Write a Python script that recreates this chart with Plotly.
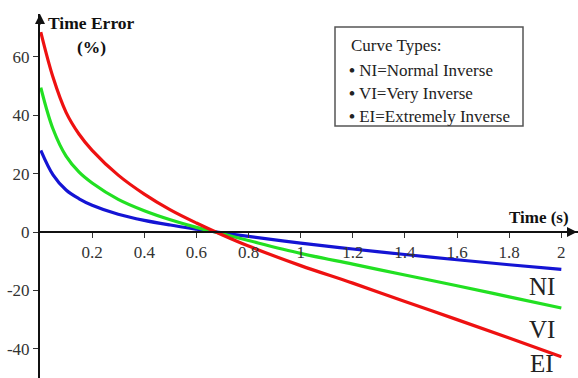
import plotly.graph_objects as go

# Time axis samples (s)
time_s = [0.003, 0.05, 0.1, 0.15, 0.2, 0.3, 0.4, 0.5, 0.6, 0.7, 0.8, 1.0, 1.2, 1.4, 1.6, 1.8, 2.0]

# Time error (%) for each IDMT curve type
err_ni = [28.0, 19.6, 14.4, 11.4, 9.2, 6.1, 4.0, 2.4, 1.0, -0.3, -1.5, -3.8, -5.8, -7.7, -9.5, -11.2, -12.8]
err_vi = [49.5, 35.3, 26.0, 20.5, 16.8, 11.2, 7.3, 4.2, 1.6, -0.6, -2.9, -7.3, -11.0, -14.7, -18.4, -22.2, -26.0]
err_ei = [68.5, 53.0, 41.0, 33.5, 28.0, 19.5, 13.0, 7.6, 3.1, -1.0, -4.8, -11.5, -17.5, -23.8, -30.0, -36.3, -42.7]

curve_names = ["NI", "VI", "EI"]
curve_colors = ["#1414d4", "#22e022", "#ee1111"]

x_ticks = [0.2, 0.4, 0.6, 0.8, 1.0, 1.2, 1.4, 1.6, 1.8, 2.0]
x_tick_text = ["0.2", "0.4", "0.6", "0.8", "1", "1.2", "1.4", "1.6", "1.8", "2"]
y_ticks = [-40, -20, 0, 20, 40, 60]
y_tick_text = ["-40", "-20", "0", "20", "40", "60"]

legend_title = "Curve Types:"
legend_items = ["NI=Normal Inverse", "VI=Very Inverse", "EI=Extremely Inverse"]

x_range = [0, 2.064]
y_range = [-50, 74.7]

SERIF = "Liberation Serif"

fig = go.Figure()
for name, ys, col in zip(curve_names, [err_ni, err_vi, err_ei], curve_colors):
    fig.add_trace(go.Scatter(
        x=time_s, y=ys, mode="lines", name=name,
        line=dict(color=col, width=3.2, shape="spline", smoothing=1.0),
        showlegend=False, hoverinfo="skip",
    ))

# x axis sits on the y = 0 line
x_pos = (0 - y_range[0]) / (y_range[1] - y_range[0])

fig.update_layout(
    width=578, height=378,
    margin=dict(l=40, r=0, t=14, b=0),
    paper_bgcolor="white", plot_bgcolor="white",
    font=dict(family=SERIF, size=17, color="#222"),
    xaxis=dict(
        range=x_range, anchor="free", position=x_pos,
        showgrid=False, zeroline=False,
        showline=True, linecolor="#111", linewidth=2,
        ticks="outside", ticklen=5, tickwidth=1, tickcolor="#333",
        tickvals=x_ticks, ticktext=x_tick_text,
        tickfont=dict(family=SERIF, size=17, color="#333"),
    ),
    yaxis=dict(
        range=y_range, showgrid=False, zeroline=False,
        showline=True, linecolor="#111", linewidth=2,
        ticks="outside", ticklen=5, tickwidth=1, tickcolor="#333",
        tickvals=y_ticks, ticktext=y_tick_text,
        tickfont=dict(family=SERIF, size=17, color="#333"),
    ),
)

annotations = []

# Axis arrowheads
annotations.append(dict(x=1, y=x_pos, xref="paper", yref="paper", ax=-12, ay=0,
                        showarrow=True, arrowhead=2, arrowsize=1, arrowwidth=2,
                        arrowcolor="#111", text=""))
annotations.append(dict(x=0, y=1, xref="paper", yref="paper", ax=0, ay=12,
                        showarrow=True, arrowhead=2, arrowsize=1, arrowwidth=2,
                        arrowcolor="#111", text=""))

# Axis titles
annotations.append(dict(x=0.198, y=71.7, xref="x", yref="y", showarrow=False,
                        text="<b>Time Error</b>", font=dict(family=SERIF, size=17.5, color="#111")))
annotations.append(dict(x=0.198, y=63.5, xref="x", yref="y", showarrow=False,
                        text="<b>(%)</b>", font=dict(family=SERIF, size=17.5, color="#111")))
annotations.append(dict(x=1.914, y=5.1, xref="x", yref="y", showarrow=False,
                        text="<b>Time (s)</b>", font=dict(family=SERIF, size=17, color="#111")))

# Curve labels at the right end
for name, yv in zip(curve_names, [-18.8, -33.4, -44.9]):
    annotations.append(dict(x=1.924, y=yv, xref="x", yref="y", showarrow=False,
                            text=name, borderpad=0,
                            font=dict(family=SERIF, size=25, color="#222")))

# Curve type key
annotations.append(dict(x=(349 - 40) / 538, y=(378 - 45) / 364, xref="paper", yref="paper",
                        xanchor="left", yanchor="middle", showarrow=False,
                        text=legend_title, font=dict(family=SERIF, size=17, color="#222")))
for i, item in enumerate(legend_items):
    py = [70, 93, 116][i]
    annotations.append(dict(x=(347 - 40) / 538, y=(378 - py) / 364, xref="paper", yref="paper",
                            xanchor="left", yanchor="middle", showarrow=False,
                            text="<b>\u2022</b> " + item, font=dict(family=SERIF, size=17, color="#222")))

fig.update_layout(annotations=annotations)

fig.add_shape(type="rect", xref="paper", yref="paper",
              x0=(335 - 40) / 538, x1=(523 - 40) / 538,
              y0=(378 - 126) / 364, y1=(378 - 27) / 364,
              line=dict(color="#555", width=1.5), fillcolor="rgba(0,0,0,0)")

fig.write_html("out.html")
